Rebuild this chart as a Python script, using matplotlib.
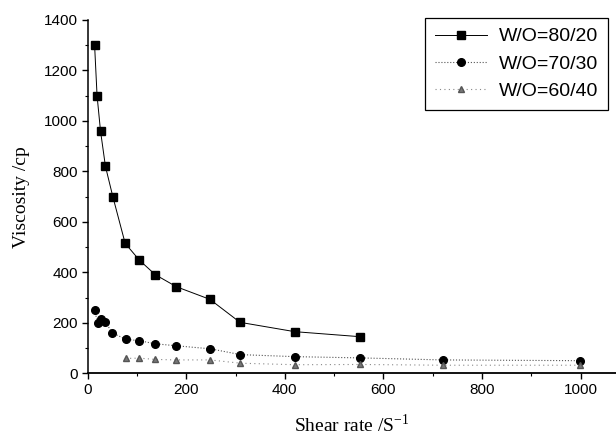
import matplotlib
matplotlib.use("Agg")
import matplotlib.pyplot as plt
from matplotlib.ticker import MultipleLocator

# Data
x_8020 = [14, 19, 26, 36, 51, 76, 105, 137, 180, 248, 309, 420, 553]
y_8020 = [1300, 1100, 960, 820, 700, 515, 448, 391, 343, 293, 202, 165, 145]

x_7030 = [14, 20, 27, 36, 49, 77, 105, 137, 180, 249, 310, 420, 553, 720, 998]
y_7030 = [251, 200, 214, 205, 161, 135, 129, 117, 109, 97, 74, 66, 61, 53, 50]

x_6040 = [77, 105, 137, 180, 248, 310, 421, 553, 721, 998]
y_6040 = [59, 60, 55, 53, 53, 40, 34, 35, 32, 32]

labels = ["W/O=80/20", "W/O=70/30", "W/O=60/40"]

plt.rcParams['mathtext.fontset'] = 'custom'
plt.rcParams['mathtext.rm'] = 'Liberation Serif'

fig = plt.figure(figsize=(6.16, 4.4), dpi=100)
ax = fig.add_axes([87.7/616, 1-373.3/440, (616-87.7)/616, (373.3-20)/440])

ax.plot(x_8020, y_8020, color='black', lw=0.7, ls='-', marker='s', ms=5.2,
        label=labels[0])
ax.plot(x_7030, y_7030, color='#555555', lw=0.8, ls=':', marker='o', ms=5.5,
        mfc='black', mec='black', label=labels[1])
ax.plot(x_6040, y_6040, color='#888888', lw=0.8, ls=(0, (1, 3)), marker='^', ms=5,
        mfc='#777777', mec='#555555', label=labels[2])

ax.set_xlim(0, 1072)
ax.set_ylim(0, 1400)
ax.spines['top'].set_visible(False)
ax.spines['right'].set_visible(False)
ax.spines['left'].set_linewidth(1.1)
ax.spines['bottom'].set_linewidth(1.3)

ax.xaxis.set_major_locator(MultipleLocator(200))
ax.xaxis.set_minor_locator(MultipleLocator(100))
ax.yaxis.set_major_locator(MultipleLocator(200))
ax.yaxis.set_minor_locator(MultipleLocator(100))
ax.tick_params(which='major', direction='out', length=4, width=1, labelsize=11, pad=3)
ax.tick_params(which='minor', direction='out', length=2.5, width=0.8)
for lab in ax.get_xticklabels() + ax.get_yticklabels():
    lab.set_fontfamily('Liberation Sans')

ax.set_xlabel("Shear rate /S$^{\\mathregular{-1}}$", fontfamily='Liberation Serif',
              fontsize=14, labelpad=12)
ax.set_ylabel("Viscosity /cp", fontfamily='Liberation Serif', fontsize=14, labelpad=10)

leg = ax.legend(loc='upper right', bbox_to_anchor=(608/616, 1-18/440),
                bbox_transform=fig.transFigure, borderaxespad=0,
                fancybox=False, edgecolor='black', framealpha=1,
                prop={'family': 'Liberation Sans', 'size': 14},
                handlelength=2.7, handletextpad=0.6, labelspacing=0.5,
                borderpad=0.5)
leg.get_frame().set_linewidth(0.9)

fig.savefig("out.png", dpi=100)
